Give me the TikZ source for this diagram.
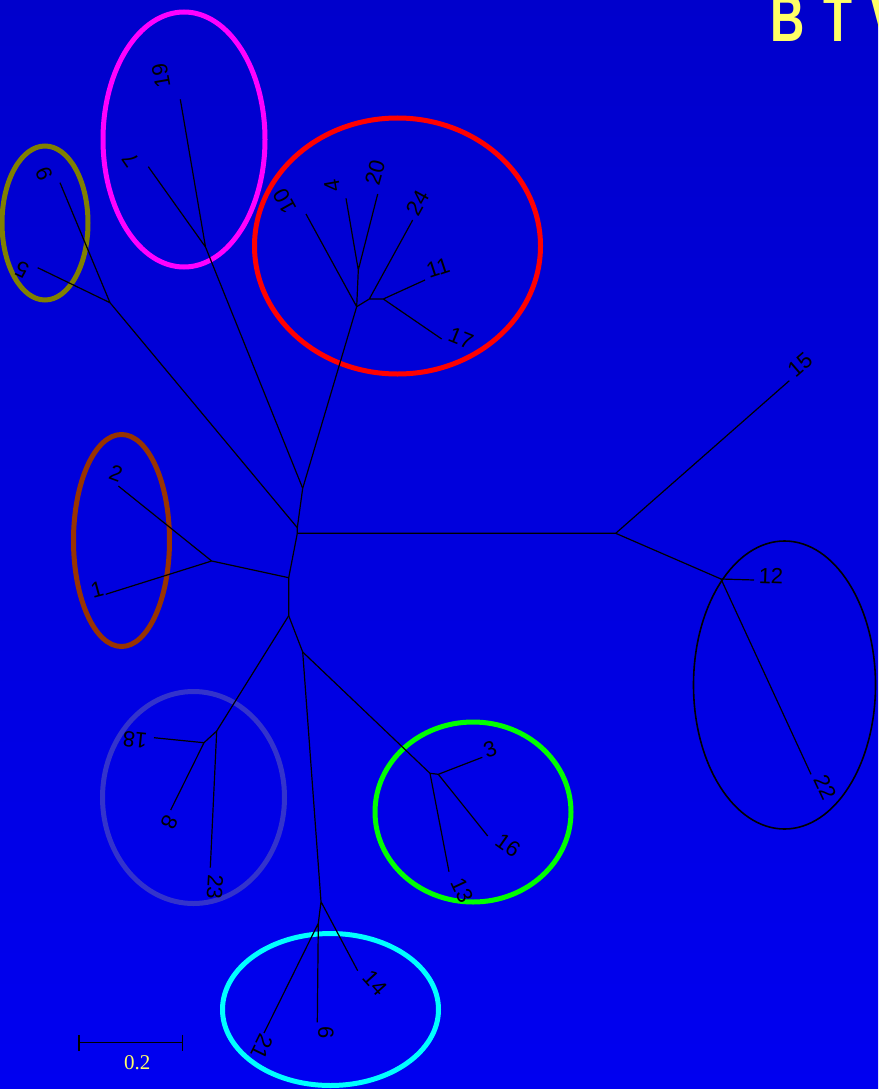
\documentclass[tikz,border=0pt]{standalone}
\usepackage{fontspec}
\setmainfont{Liberation Sans}
\newfontfamily\scalefont{Liberation Serif}
\usepackage{graphicx}
\usepackage{tikz}
\usetikzlibrary{
	arrows.meta,
	shapes.geometric
}
\definecolor{BgTop}{RGB}{0,0,204}
\definecolor{BgBottom}{RGB}{0,0,240}
\definecolor{TitleYellow}{RGB}{255,255,102}
\definecolor{GrpMagenta}{RGB}{255,0,255}
\definecolor{GrpOlive}{RGB}{128,128,0}
\definecolor{GrpRed}{RGB}{255,0,0}
\definecolor{GrpBrown}{RGB}{153,51,0}
\definecolor{GrpSlate}{RGB}{51,51,204}
\definecolor{GrpGreen}{RGB}{0,255,0}
\definecolor{GrpCyan}{RGB}{0,255,255}

\begin{document}
\begin{tikzpicture}[
	x=1pt, y=-1pt,
	branch/.style={black, line width=1.2pt},
	ring/.style={ellipse, draw, line width=5pt, inner sep=0pt},
	tiplabel/.style={inner sep=0pt, text=black, font=\fontsize{22}{22}\selectfont}
	]
	
	\shade[top color=BgTop, bottom color=BgBottom] (0,0) rectangle (878,1089);
	\clip (0,0) rectangle (878,1089);
	
	\node[
	anchor=base west,
	inner sep=0pt,
	text=TitleYellow,
	font=\bfseries\fontsize{66}{66}\selectfont
	] (title) at (770,42) {\scalebox{0.72}[1]{B\hspace{26pt}T\hspace{26pt}V}};
	
	% groups
	\node[ring, draw=GrpMagenta, minimum width=162pt, minimum height=255pt] (gMagenta) at (184,139.5) {};
	\node[ring, draw=GrpOlive, minimum width=86pt, minimum height=154pt] (gOlive) at (45,223) {};
	\node[ring, draw=GrpRed, minimum width=286pt, minimum height=256pt] (gRed) at (397.5,246) {};
	\node[ring, draw=GrpBrown, minimum width=96pt, minimum height=212pt] (gBrown) at (121.5,540.5) {};
	\node[ring, draw=GrpSlate, minimum width=182pt, minimum height=212pt] (gSlate) at (193.5,797.5) {};
	\node[ring, draw=GrpGreen, minimum width=196pt, minimum height=180pt] (gGreen) at (473,812) {};
	\node[ring, draw=GrpCyan, minimum width=216pt, minimum height=152pt] (gCyan) at (330.5,1009.5) {};
	\node[ring, draw=black, line width=1.6pt, minimum width=182pt, minimum height=288pt] (gBlack) at (784.5,685) {};
	
	% inner nodes
	\coordinate (A) at (302.7,488.3);
	\coordinate (B) at (297.3,527.7);
	\coordinate (Bh) at (297.3,533.3);
	\coordinate (C) at (288.7,577.7);
	\coordinate (D) at (288.7,615.7);
	\coordinate (E) at (302.7,652);
	\coordinate (P) at (205.5,247);
	\coordinate (O) at (110,302.7);
	\coordinate (Q) at (356.7,306.7);
	\coordinate (R) at (358.3,270);
	\coordinate (S) at (369.3,299);
	\coordinate (T) at (383.3,299);
	\coordinate (M) at (615.7,533.3);
	\coordinate (N) at (721,579);
	\coordinate (L) at (211.7,561);
	\coordinate (F) at (216.7,731);
	\coordinate (G) at (204,742.7);
	\coordinate (H) at (321,901.7);
	\coordinate (I) at (318.3,923.3);
	\coordinate (J) at (430,773.3);
	\coordinate (K) at (438.3,774.3);
	
	% tips
	\coordinate (t19) at (180.3,99.3);
	\coordinate (t7) at (148.3,166.7);
	\coordinate (t9) at (60,182.7);
	\coordinate (t5) at (37.7,267.7);
	\coordinate (t10) at (306,214);
	\coordinate (t4) at (346,198.3);
	\coordinate (t20) at (377.7,194);
	\coordinate (t24) at (412.7,220);
	\coordinate (t11) at (425,280);
	\coordinate (t17) at (441.7,339);
	\coordinate (t15) at (789.3,380.7);
	\coordinate (t12) at (754,580);
	\coordinate (t22) at (811,774.3);
	\coordinate (t2) at (118.3,486);
	\coordinate (t1) at (105.7,594.3);
	\coordinate (t18) at (154,737.7);
	\coordinate (t8) at (170.7,810);
	\coordinate (t23) at (210.3,867.7);
	\coordinate (t3) at (482.3,757.3);
	\coordinate (t16) at (487.7,836);
	\coordinate (t13) at (449,871.7);
	\coordinate (t14) at (357.7,970.7);
	\coordinate (t6) at (317.3,1022.3);
	\coordinate (t21) at (264,1033);
	
	\draw[branch] (A) -- (P) (P) -- (t19) (P) -- (t7);
	\draw[branch] (A) -- (Q) (Q) -- (t10) (Q) -- (R) (R) -- (t4) (R) -- (t20);
	\draw[branch] (Q) -- (S) (S) -- (t24) (S) -- (T) (T) -- (t11) (T) -- (t17);
	\draw[branch] (A) -- (B) (B) -- (O) (O) -- (t9) (O) -- (t5);
	\draw[branch] (B) -- (Bh) (Bh) -- (M) (M) -- (t15) (M) -- (N) (N) -- (t12) (N) -- (t22);
	\draw[branch] (Bh) -- (C) (C) -- (L) (L) -- (t2) (L) -- (t1);
	\draw[branch] (C) -- (D) (D) -- (F) (F) -- (G) (G) -- (t18) (G) -- (t8) (F) -- (t23);
	\draw[branch] (D) -- (E) (E) -- (H) (H) -- (I) (I) -- (t21) (I) -- (t6) (H) -- (t14);
	\draw[branch] (E) -- (J) (J) -- (K) (K) -- (t3) (K) -- (t16) (J) -- (t13);
	
	% tip labels
	\node[tiplabel, rotate=100] (l19) at (161,76) {19};
	\node[tiplabel, rotate=125] (l7) at (131,160) {7};
	\node[tiplabel, rotate=113] (l9) at (44,174) {9};
	\node[tiplabel, rotate=155] (l5) at (22,270) {5};
	\node[tiplabel, rotate=119] (l10) at (285,201) {10};
	\node[tiplabel, rotate=100] (l4) at (332,186) {4};
	\node[tiplabel, rotate=75] (l20) at (375,173) {20};
	\node[tiplabel, rotate=61] (l24) at (418,203) {24};
	\node[tiplabel, rotate=18] (l11) at (438,268) {11};
	\node[tiplabel, rotate=-22] (l17) at (461,338) {17};
	\node[tiplabel, rotate=41] (l15) at (800,365) {15};
	\node[tiplabel, rotate=-2] (l12) at (771,576) {12};
	\node[tiplabel, rotate=-65] (l22) at (825,787) {22};
	\node[tiplabel, rotate=-20] (l2) at (116,473) {2};
	\node[tiplabel, rotate=15] (l1) at (97,590) {1};
	\node[tiplabel, rotate=174] (l18) at (135,740) {18};
	\node[tiplabel, rotate=-116] (l8) at (170,822) {8};
	\node[tiplabel, rotate=-93] (l23) at (215,887) {23};
	\node[tiplabel, rotate=20] (l3) at (490,749) {3};
	\node[tiplabel, rotate=-35] (l16) at (508,845) {16};
	\node[tiplabel, rotate=-65] (l13) at (462,890) {13};
	\node[tiplabel, rotate=-48] (l14) at (375,983) {14};
	\node[tiplabel, rotate=-90] (l6) at (326,1033) {6};
	\node[tiplabel, rotate=-116] (l21) at (262,1047) {21};
	
	% scale bar
	\coordinate (sbL) at (78.3,1042.5);
	\coordinate (sbR) at (183.3,1042.5);
	\draw[
	{Bar[width=16pt]}-{Bar[width=16pt]},
	line width=1.2pt
	] (sbL) -- (sbR);
	\node[
	inner sep=0pt,
	text=TitleYellow,
	font=\scalefont\fontsize{21}{21}\selectfont
	] (sbText) at (137.3,1062.3) {0.2};
	
\end{tikzpicture}
\end{document}
